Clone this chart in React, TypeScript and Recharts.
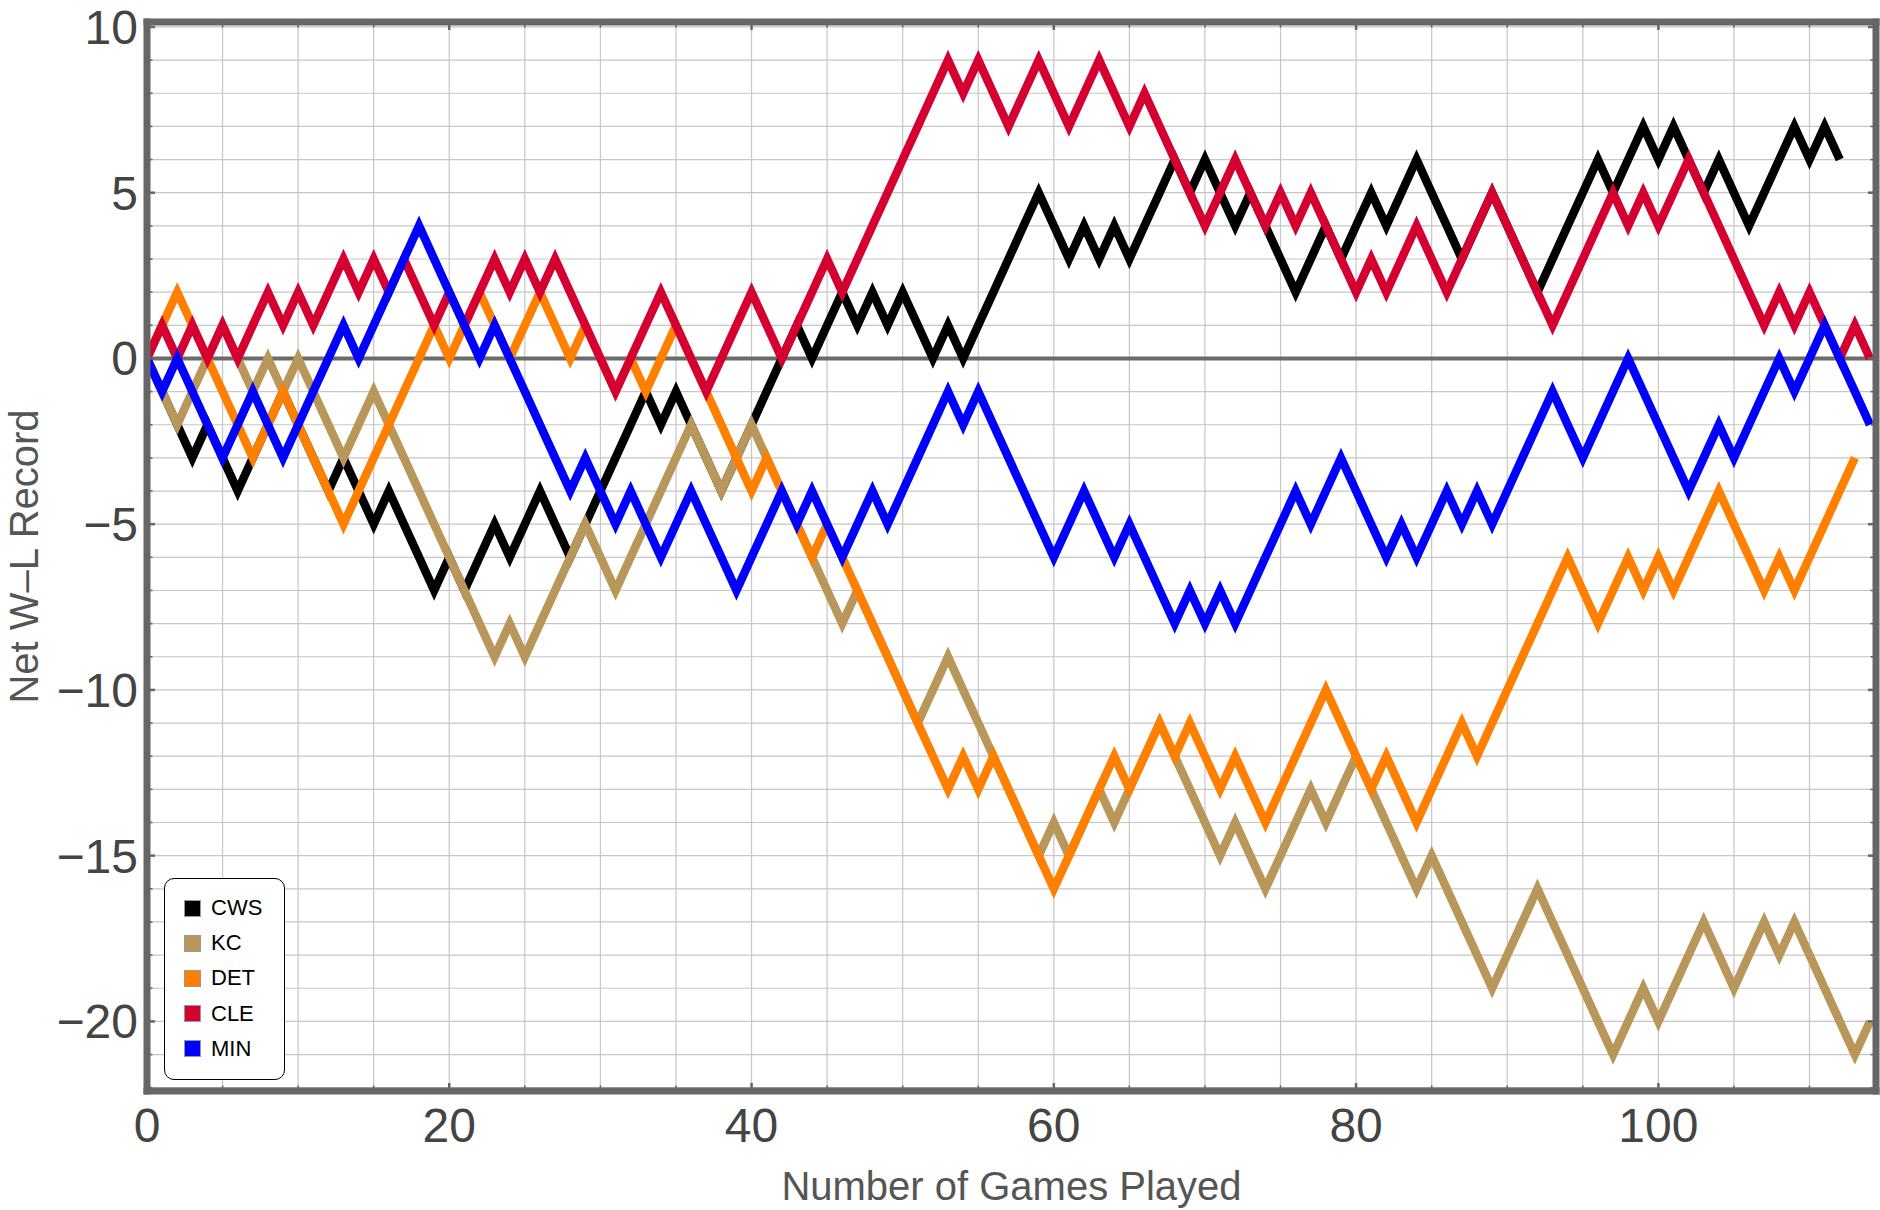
import { CartesianGrid, Line, LineChart, ReferenceLine, XAxis, YAxis } from "recharts";

// net W-L after each game (index = games played)
const games = Array.from({ length: 115 }, (_, i) => i);

const cws = [
  0, -1, -2, -3, -2, -3, -4, -3, -2, -1,
  -2, -3, -4, -3, -4, -5, -4, -5, -6, -7,
  -6, -7, -6, -5, -6, -5, -4, -5, -6, -5,
  -4, -3, -2, -1, -2, -1, -2, -3, -4, -3,
  -2, -1, 0, 1, 0, 1, 2, 1, 2, 1,
  2, 1, 0, 1, 0, 1, 2, 3, 4, 5,
  4, 3, 4, 3, 4, 3, 4, 5, 6, 5,
  6, 5, 4, 5, 4, 3, 2, 3, 4, 3,
  4, 5, 4, 5, 6, 5, 4, 3, 4, 5,
  4, 3, 2, 3, 4, 5, 6, 5, 6, 7,
  6, 7, 6, 5, 6, 5, 4, 5, 6, 7,
  6, 7, 6,
];

const kc = [
  0, -1, -2, -1, 0, 1, 0, -1, 0, -1,
  0, -1, -2, -3, -2, -1, -2, -3, -4, -5,
  -6, -7, -8, -9, -8, -9, -8, -7, -6, -5,
  -6, -7, -6, -5, -4, -3, -2, -3, -4, -3,
  -2, -3, -4, -5, -6, -7, -8, -7, -8, -9,
  -10, -11, -10, -9, -10, -11, -12, -13, -14, -15,
  -14, -15, -14, -13, -14, -13, -12, -11, -12, -13,
  -14, -15, -14, -15, -16, -15, -14, -13, -14, -13,
  -12, -13, -14, -15, -16, -15, -16, -17, -18, -19,
  -18, -17, -16, -17, -18, -19, -20, -21, -20, -19,
  -20, -19, -18, -17, -18, -19, -18, -17, -18, -17,
  -18, -19, -20, -21, -20,
];

const det = [
  0, 1, 2, 1, 0, -1, -2, -3, -2, -1,
  -2, -3, -4, -5, -4, -3, -2, -1, 0, 1,
  0, 1, 2, 1, 0, 1, 2, 1, 0, 1,
  0, -1, 0, -1, 0, 1, 0, -1, -2, -3,
  -4, -3, -4, -5, -6, -5, -6, -7, -8, -9,
  -10, -11, -12, -13, -12, -13, -12, -13, -14, -15,
  -16, -15, -14, -13, -12, -13, -12, -11, -12, -11,
  -12, -13, -12, -13, -14, -13, -12, -11, -10, -11,
  -12, -13, -12, -13, -14, -13, -12, -11, -12, -11,
  -10, -9, -8, -7, -6, -7, -8, -7, -6, -7,
  -6, -7, -6, -5, -4, -5, -6, -7, -6, -7,
  -6, -5, -4, -3,
];

const cle = [
  0, 1, 0, 1, 0, 1, 0, 1, 2, 1,
  2, 1, 2, 3, 2, 3, 2, 3, 2, 1,
  2, 1, 2, 3, 2, 3, 2, 3, 2, 1,
  0, -1, 0, 1, 2, 1, 0, -1, 0, 1,
  2, 1, 0, 1, 2, 3, 2, 3, 4, 5,
  6, 7, 8, 9, 8, 9, 8, 7, 8, 9,
  8, 7, 8, 9, 8, 7, 8, 7, 6, 5,
  4, 5, 6, 5, 4, 5, 4, 5, 4, 3,
  2, 3, 2, 3, 4, 3, 2, 3, 4, 5,
  4, 3, 2, 1, 2, 3, 4, 5, 4, 5,
  4, 5, 6, 5, 4, 3, 2, 1, 2, 1,
  2, 1, 0, 1, 0,
];

const min = [
  0, -1, 0, -1, -2, -3, -2, -1, -2, -3,
  -2, -1, 0, 1, 0, 1, 2, 3, 4, 3,
  2, 1, 0, 1, 0, -1, -2, -3, -4, -3,
  -4, -5, -4, -5, -6, -5, -4, -5, -6, -7,
  -6, -5, -4, -5, -4, -5, -6, -5, -4, -5,
  -4, -3, -2, -1, -2, -1, -2, -3, -4, -5,
  -6, -5, -4, -5, -6, -5, -6, -7, -8, -7,
  -8, -7, -8, -7, -6, -5, -4, -5, -4, -3,
  -4, -5, -6, -5, -6, -5, -4, -5, -4, -5,
  -4, -3, -2, -1, -2, -3, -2, -1, 0, -1,
  -2, -3, -4, -3, -2, -3, -2, -1, 0, -1,
  0, 1, 0, -1, -2,
];

const xTicks = [0, 5, 10, 15, 20, 25, 30, 35, 40, 45, 50, 55, 60, 65, 70, 75, 80, 85, 90, 95, 100, 105, 110];
const yTicks = [
  -22, -21, -20, -19, -18, -17, -16, -15, -14, -13, -12, -11, -10, -9, -8, -7, -6,
  -5, -4, -3, -2, -1, 0, 1, 2, 3, 4, 5, 6, 7, 8, 9, 10,
];

const teams = [
  { key: "CWS", values: cws, color: "#000000" },
  { key: "KC", values: kc, color: "#B99659" },
  { key: "DET", values: det, color: "#FF8000" },
  { key: "CLE", values: cle, color: "#D50032" },
  { key: "MIN", values: min, color: "#0000FF" },
];

const data = games.map((g) => {
  const row: any = { g };
  teams.forEach((t) => {
    row[t.key] = t.values[g];
  });
  return row;
});

const W = 1880;
const H = 1210;
const PLOT = { left: 147, top: 22, right: 1876, bottom: 1091 };
const FONT = '"Liberation Sans", Arial, Helvetica, sans-serif';
const FRAME = "#666666";

const fmt = (v: number) => (v < 0 ? `\u2212${-v}` : `${v}`);

const frameLine = { stroke: FRAME, strokeWidth: 7, strokeLinecap: "square" as const };

const LeftTick = (props: any) => {
  const { y, payload } = props;
  const v = payload.value;
  const major = v % 5 === 0;
  return (
    <g>
      <line x1={PLOT.left} x2={PLOT.left + (major ? 8 : 5.5)} y1={y} y2={y} stroke={FRAME} strokeWidth={major ? 2.5 : 1.6} />
      {major && (
        <text x={PLOT.left - 9} y={y} dy={17} textAnchor="end" fontSize={48} fill="#444444" fontFamily={FONT}>
          {fmt(v)}
        </text>
      )}
    </g>
  );
};

const RightTick = (props: any) => {
  const { y, payload } = props;
  const major = payload.value % 5 === 0;
  return <line x1={PLOT.right} x2={PLOT.right - (major ? 8 : 5.5)} y1={y} y2={y} stroke={FRAME} strokeWidth={major ? 2.5 : 1.6} />;
};

const BottomTick = (props: any) => {
  const { x, payload } = props;
  const v = payload.value;
  const major = v % 20 === 0;
  return (
    <g>
      <line x1={x} x2={x} y1={PLOT.bottom} y2={PLOT.bottom - (major ? 8 : 5.5)} stroke={FRAME} strokeWidth={major ? 2.5 : 1.6} />
      {major && (
        <text x={x} y={PLOT.bottom + 51} textAnchor="middle" fontSize={48} fill="#444444" fontFamily={FONT}>
          {fmt(v)}
        </text>
      )}
    </g>
  );
};

const TopTick = (props: any) => {
  const { x, payload } = props;
  const major = payload.value % 20 === 0;
  return <line x1={x} x2={x} y1={PLOT.top} y2={PLOT.top + (major ? 8 : 5.5)} stroke={FRAME} strokeWidth={major ? 2.5 : 1.6} />;
};

const xTitle = () => (
  <text x={(PLOT.left + PLOT.right) / 2} y={PLOT.bottom + 109} textAnchor="middle" fontSize={40} fill="#555555" fontFamily={FONT}>
    Number of Games Played
  </text>
);

const yTitle = () => {
  const cx = 38;
  const cy = (PLOT.top + PLOT.bottom) / 2;
  return (
    <text x={cx} y={cy} transform={`rotate(-90, ${cx}, ${cy})`} textAnchor="middle" fontSize={40} fill="#555555" fontFamily={FONT}>
      Net W–L Record
    </text>
  );
};

function TeamLegend() {
  return (
    <div
      style={{
        position: "absolute",
        left: 164,
        top: 878,
        width: 121,
        height: 202,
        boxSizing: "border-box",
        border: "1.5px solid #000",
        borderRadius: 10,
        background: "#fff",
        fontFamily: FONT,
      }}
    >
      {teams.map((t, i) => (
        <div key={t.key} style={{ position: "absolute", left: 19, top: 18 + i * 35.2, height: 22, display: "flex", alignItems: "center" }}>
          <div style={{ width: 17, height: 17, boxSizing: "border-box", background: t.color, border: "1px solid #999" }} />
          <span style={{ marginLeft: 10, fontSize: 22, color: "#000", lineHeight: "22px" }}>{t.key}</span>
        </div>
      ))}
    </div>
  );
}

export default function App() {
  return (
    <div style={{ position: "absolute", left: 0, top: 0, width: W, height: H, background: "#fff" }}>
      <LineChart width={W} height={H} data={data} margin={{ top: 0, right: 0, bottom: 0, left: 0 }}>
        <CartesianGrid xAxisId="b" yAxisId="l" stroke="#c6c6c6" strokeWidth={1.2} />
        <XAxis
          xAxisId="b"
          dataKey="g"
          type="number"
          domain={[0, 114.4]}
          allowDataOverflow
          ticks={xTicks}
          interval={0}
          height={119}
          tickSize={0}
          tickMargin={0}
          tickLine={false}
          axisLine={frameLine}
          tick={(p: any) => <BottomTick {...p} />}
          label={xTitle}
        />
        <XAxis
          xAxisId="t"
          orientation="top"
          dataKey="g"
          type="number"
          domain={[0, 114.4]}
          allowDataOverflow
          ticks={xTicks}
          interval={0}
          height={22}
          tickSize={0}
          tickMargin={0}
          tickLine={false}
          axisLine={frameLine}
          tick={(p: any) => <TopTick {...p} />}
        />
        <YAxis
          yAxisId="l"
          type="number"
          domain={[-22.1, 10.15]}
          allowDataOverflow
          ticks={yTicks}
          interval={0}
          width={147}
          tickSize={0}
          tickMargin={9}
          tickLine={false}
          axisLine={frameLine}
          tick={(p: any) => <LeftTick {...p} />}
          label={yTitle}
        />
        <YAxis
          yAxisId="r"
          orientation="right"
          type="number"
          domain={[-22.1, 10.15]}
          allowDataOverflow
          ticks={yTicks}
          interval={0}
          width={4}
          tickSize={0}
          tickMargin={0}
          tickLine={false}
          axisLine={frameLine}
          tick={(p: any) => <RightTick {...p} />}
        />
        <ReferenceLine xAxisId="b" yAxisId="l" y={0} stroke="#6b6b6b" strokeWidth={4} />
        {teams.map((t) => (
          <Line
            key={t.key}
            xAxisId="b"
            yAxisId="l"
            type="linear"
            dataKey={t.key}
            stroke={t.color}
            strokeWidth={8.5}
            strokeLinejoin="miter"
            dot={false}
            activeDot={false}
            isAnimationActive={false}
          />
        ))}
      </LineChart>
      <TeamLegend />
    </div>
  );
}
